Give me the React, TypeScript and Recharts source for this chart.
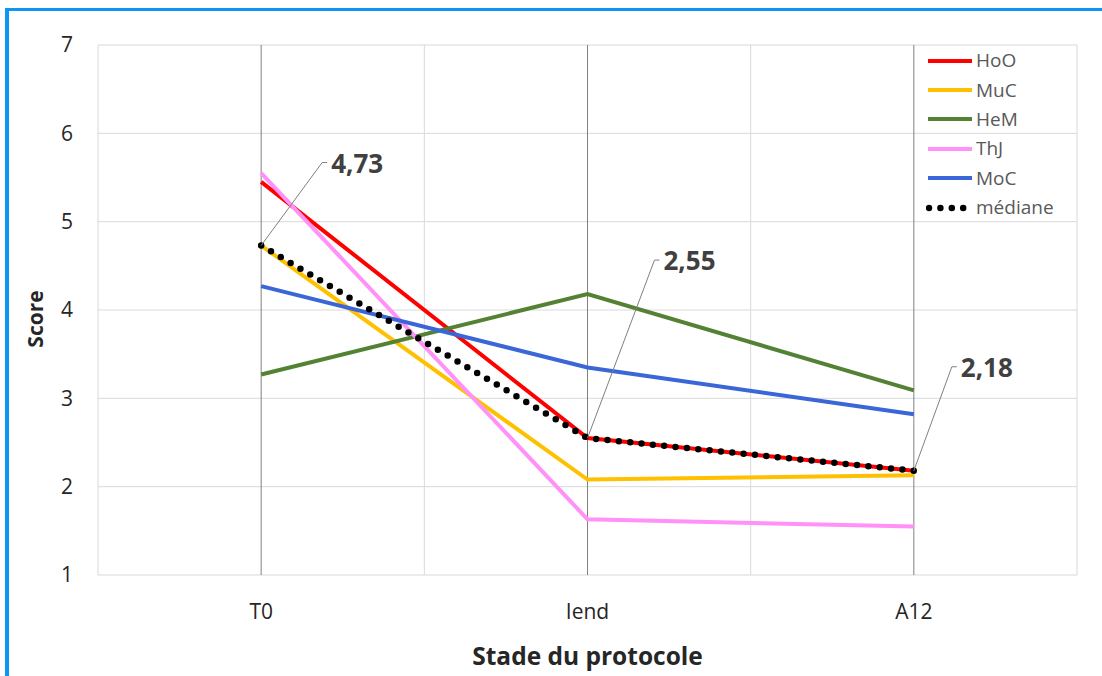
import React from 'react';
import {
  LineChart,
  Line,
  XAxis,
  YAxis,
  CartesianGrid,
  ReferenceLine,
  Legend,
  LabelList,
} from 'recharts';

// Protocol stages (x categories)
const stages = ['T0', 'Iend', 'A12'];

// Scores per subject at each stage
const hoo = [5.45, 2.55, 2.18];
const muc = [4.73, 2.08, 2.13];
const hem = [3.27, 4.18, 3.09];
const thj = [5.55, 1.63, 1.55];
const moc = [4.27, 3.35, 2.82];
const mediane = [4.73, 2.55, 2.18];

// Y axis ticks
const scoreTicks = [1, 2, 3, 4, 5, 6, 7];

const FONT = '"Open Sans", "Liberation Sans", Arial, sans-serif';

// Visual styling of each series
const seriesStyles = [
  { key: 'HoO', color: '#FF0000' },
  { key: 'MuC', color: '#FFC000' },
  { key: 'HeM', color: '#548235' },
  { key: 'ThJ', color: '#FF91F8' },
  { key: 'MoC', color: '#3A66D8' },
];

// Elbow offsets (px) of the callout leader lines on the median series
const calloutOffsets = [
  [61, -83],
  [67, -178],
  [38, -104],
];

const data = stages.map((stage, i) => ({
  pos: i + 0.5,
  stage,
  HoO: hoo[i],
  MuC: muc[i],
  HeM: hem[i],
  ThJ: thj[i],
  MoC: moc[i],
  médiane: mediane[i],
}));

const formatFr = (v: number) => v.toFixed(2).replace('.', ',');

const MedianCallout = (props: any) => {
  const { x, y, value, index } = props;
  const [dx, dy] = calloutOffsets[index] || [40, -80];
  const ex = x + dx;
  const ey = y + dy;
  return (
    <g>
      <path
        d={`M${x},${y}L${ex},${ey}L${ex + 5},${ey}`}
        stroke="#808080"
        strokeWidth={1}
        fill="none"
      />
      <text
        x={ex + 9}
        y={ey}
        dominantBaseline="central"
        fontFamily={FONT}
        fontWeight="bold"
        fontSize={26}
        fill="#404040"
      >
        {formatFr(Number(value))}
      </text>
    </g>
  );
};

const renderLegend = () => (
  <div style={{ fontFamily: FONT, fontSize: 19, color: '#595959' }}>
    {[...seriesStyles.map((s) => ({ name: s.key, color: s.color, dotted: false })),
      { name: 'médiane', color: '#000', dotted: true }].map((item) => (
      <div
        key={item.name}
        style={{ display: 'flex', alignItems: 'center', height: 29.4 }}
      >
        <svg width={48} height={10} style={{ display: 'block' }}>
          {item.dotted ? (
            <line
              x1={3}
              y1={5}
              x2={46}
              y2={5}
              stroke="#000"
              strokeWidth={6.5}
              strokeLinecap="round"
              strokeDasharray="0 11.4"
            />
          ) : (
            <line x1={2} y1={5} x2={46} y2={5} stroke={item.color} strokeWidth={4} />
          )}
        </svg>
        <span style={{ marginLeft: 2, lineHeight: 1 }}>{item.name}</span>
      </div>
    ))}
  </div>
);

const XTitle = (props: any) => {
  const vb = props.viewBox;
  return (
    <text
      x={vb.x + vb.width / 2}
      y={vb.y + 80}
      textAnchor="middle"
      dominantBaseline="central"
      fontFamily={FONT}
      fontWeight="bold"
      fontSize={24.5}
      fill="#262626"
    >
      Stade du protocole
    </text>
  );
};

const YTitle = (props: any) => {
  const vb = props.viewBox;
  const cx = vb.x + 26;
  const cy = vb.y + vb.height / 2 + 9;
  return (
    <text
      x={cx}
      y={cy}
      transform={`rotate(-90, ${cx}, ${cy})`}
      textAnchor="middle"
      dominantBaseline="central"
      fontFamily={FONT}
      fontWeight="bold"
      fontSize={21}
      fill="#262626"
    >
      Score
    </text>
  );
};

export default function App() {
  return (
    <div
      style={{
        position: 'absolute',
        left: 5,
        top: 8,
        width: 1097,
        height: 668,
        borderLeft: '4px solid #0B95F5',
        borderTop: '3px solid #0B95F5',
        background: '#fff',
        boxSizing: 'border-box',
      }}
    >
      <LineChart
        width={1093}
        height={665}
        data={data}
        margin={{ top: 34, right: 25, left: 0, bottom: 0 }}
      >
        <XAxis
          xAxisId="grid"
          type="number"
          dataKey="pos"
          domain={[0, 3]}
          ticks={[0, 1, 2, 3]}
          orientation="top"
          hide
        />
        <CartesianGrid xAxisId="grid" stroke="#D9D9D9" strokeWidth={1} />
        <XAxis
          xAxisId="main"
          type="number"
          dataKey="pos"
          domain={[0, 3]}
          ticks={stages.map((_, i) => i + 0.5)}
          interval={0}
          tickFormatter={(v: number) => stages[Math.floor(v)]}
          axisLine={false}
          tickLine={false}
          tickSize={0}
          tickMargin={29}
          height={101}
          tick={{ fill: '#262626', fontSize: 21, fontFamily: FONT }}
          label={<XTitle />}
        />
        <YAxis
          domain={[1, 7]}
          ticks={scoreTicks}
          interval={0}
          axisLine={false}
          tickLine={false}
          tickSize={0}
          tickMargin={25}
          width={89}
          tick={{ fill: '#262626', fontSize: 21, fontFamily: FONT }}
          label={<YTitle />}
        />
        {data.map((d) => (
          <ReferenceLine
            key={d.stage}
            xAxisId="main"
            x={d.pos}
            stroke="#808080"
            strokeWidth={1}
          />
        ))}
        {seriesStyles.map((s) => (
          <Line
            key={s.key}
            xAxisId="main"
            type="linear"
            dataKey={s.key}
            stroke={s.color}
            strokeWidth={4}
            dot={false}
            activeDot={false}
            isAnimationActive={false}
          />
        ))}
        <Line
          xAxisId="main"
          type="linear"
          dataKey="médiane"
          stroke="#000"
          strokeWidth={6.5}
          strokeLinecap="round"
          strokeDasharray="0 11.4"
          dot={false}
          activeDot={false}
          isAnimationActive={false}
        >
          <LabelList dataKey="médiane" content={<MedianCallout />} />
        </Line>
        <Legend
          layout="horizontal"
          verticalAlign="middle"
          align="center"
          content={renderLegend}
          wrapperStyle={{ position: 'absolute', left: 917, top: 35, width: 160, height: 180 }}
        />
      </LineChart>
    </div>
  );
}
